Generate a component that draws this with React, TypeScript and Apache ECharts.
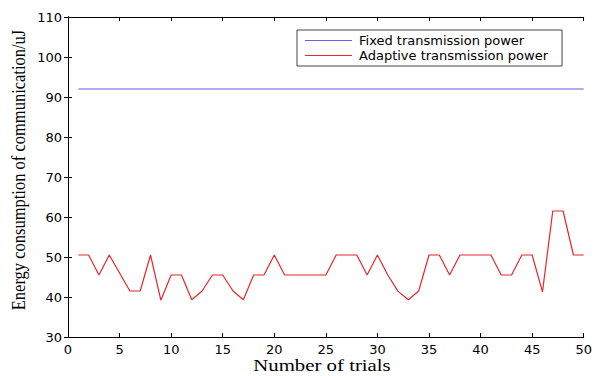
import React, { useEffect, useRef } from "react";
import * as echarts from "echarts";

const trials: number[] = Array.from({ length: 50 }, (_, i) => i + 1);
const fixedPower: number[] = Array.from({ length: 50 }, () => 92);
const adaptivePower: number[] = [
  50.5, 50.5, 45.5, 50.5, 46, 41.5, 41.5, 50.5, 39.2, 45.5,
  45.5, 39.3, 41.5, 45.5, 45.5, 41.5, 39.3, 45.5, 45.5, 50.5,
  45.5, 45.5, 45.5, 45.5, 45.5, 50.5, 50.5, 50.5, 45.5, 50.5,
  45.5, 41.4, 39.3, 41.5, 50.5, 50.5, 45.5, 50.5, 50.5, 50.5,
  50.5, 45.5, 45.5, 50.5, 50.5, 41.3, 61.5, 61.5, 50.5, 50.5,
];
const seriesNames = ["Fixed transmission power", "Adaptive transmission power"];
const xTitle = "Number of trials";
const yTitle = "Energy consumption of communication/uJ";

const sans = "DejaVu Sans, Arial, sans-serif";
const serif = "Liberation Serif, Times New Roman, serif";
const blue = "#6262f0";
const red = "#e8262b";

export default function App() {
  const ref = useRef<HTMLDivElement>(null);

  useEffect(() => {
    if (!ref.current) return;
    const chart = echarts.init(ref.current, undefined, { renderer: "svg" });
    const frameAxis = {
      axisLine: { show: true, lineStyle: { color: "#000", width: 1 } },
      axisTick: { show: true, inside: true, length: 4, lineStyle: { color: "#000" } },
      axisLabel: { show: false },
      splitLine: { show: false },
    };
    const mainAxisStyle = {
      axisLine: { show: true, lineStyle: { color: "#000", width: 1 } },
      axisTick: { show: true, inside: true, length: 4, lineStyle: { color: "#000" } },
      axisLabel: { fontFamily: sans, fontSize: 13, color: "#000", margin: 6 },
      splitLine: { show: false },
    };
    chart.setOption({
      animation: false,
      backgroundColor: "#fff",
      grid: { left: 68, right: 10, top: 17, bottom: 39, containLabel: false },
      legend: {
        left: 297,
        top: 30,
        orient: "vertical",
        data: seriesNames.map((name) => ({ name, icon: "rect" })),
        backgroundColor: "#fff",
        borderColor: "#444",
        borderWidth: 1,
        padding: [4, 14, 4, 8],
        itemWidth: 47,
        itemHeight: 1.2,
        itemGap: 2,
        textStyle: { fontFamily: sans, fontSize: 13, color: "#000", padding: [0, 0, 0, 2] },
      },
      graphic: [
        {
          type: "text",
          x: 322,
          y: 365,
          scaleX: 1.3,
          style: {
            text: xTitle,
            fontFamily: serif,
            fontSize: 16,
            fill: "#000",
            textAlign: "center",
            textVerticalAlign: "middle",
          },
        },
        {
          type: "text",
          x: 18,
          y: 170,
          rotation: Math.PI / 2,
          scaleY: 1.2,
          style: {
            text: yTitle,
            fontFamily: serif,
            fontSize: 16.5,
            fill: "#000",
            textAlign: "center",
            textVerticalAlign: "middle",
          },
        },
      ],
      xAxis: [
        { type: "value", min: 0, max: 50, interval: 5, ...mainAxisStyle },
        { type: "value", position: "top", min: 0, max: 50, interval: 5, ...frameAxis },
      ],
      yAxis: [
        { type: "value", min: 30, max: 110, interval: 10, ...mainAxisStyle },
        { type: "value", position: "right", min: 30, max: 110, interval: 10, ...frameAxis },
      ],
      series: [
        {
          name: seriesNames[0],
          type: "line",
          symbol: "none",
          data: trials.map((t, i) => [t, fixedPower[i]]),
          lineStyle: { color: blue, width: 1.2 },
          itemStyle: { color: blue },
        },
        {
          name: seriesNames[1],
          type: "line",
          symbol: "none",
          data: trials.map((t, i) => [t, adaptivePower[i]]),
          lineStyle: { color: red, width: 1.2 },
          itemStyle: { color: red },
        },
      ],
    });
    return () => chart.dispose();
  }, []);

  return <div ref={ref} style={{ width: 595, height: 376, position: "absolute", left: 0, top: 0 }} />;
}
